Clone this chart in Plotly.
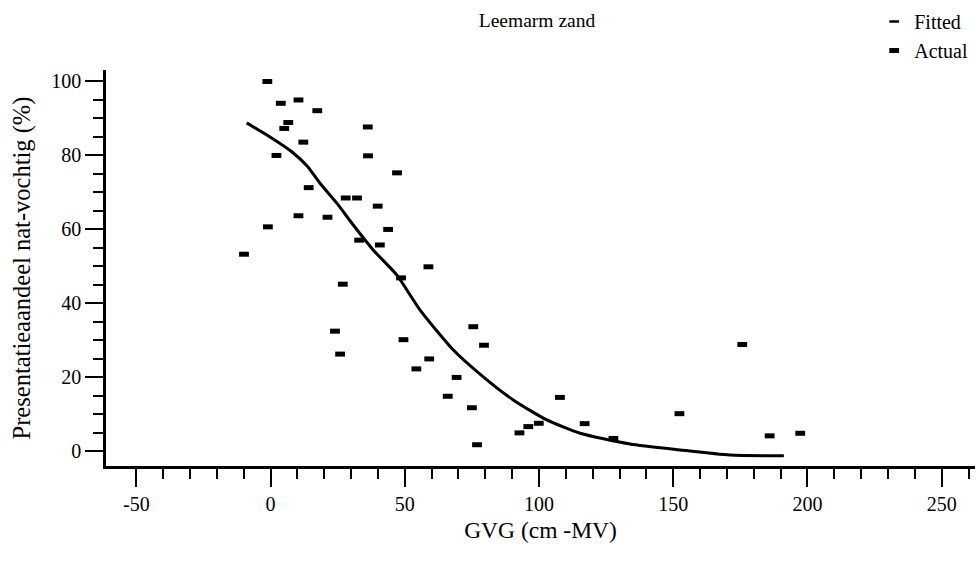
import plotly.graph_objects as go

# Actual observations (GVG in cm -MV, share in %)
actual_x = [-9.9, -1.2, -1.0, 2.2, 3.8, 5.1, 6.6, 10.4, 10.4, 12.2, 14.2, 17.4, 21.2,
            28.0, 32.2, 33.0, 36.2, 36.3, 39.9, 40.7, 43.8, 47.1, 48.6, 24.0, 25.9,
            26.9, 49.5, 58.8, 59.1, 54.3, 69.3, 66.0, 75.5, 79.5, 75.0, 76.9, 92.7,
            96.0, 99.9, 107.8, 117.0, 127.7, 152.3, 175.7, 185.9, 197.3]
actual_y = [53.2, 99.9, 60.6, 79.9, 94.0, 87.2, 88.8, 94.9, 63.6, 83.5, 71.2, 92.0, 63.2,
            68.4, 68.4, 57.0, 87.6, 79.8, 66.2, 55.7, 59.9, 75.2, 46.8, 32.4, 26.2,
            45.1, 30.1, 49.8, 24.9, 22.2, 19.9, 14.8, 33.6, 28.6, 11.7, 1.7, 4.9,
            6.6, 7.5, 14.5, 7.4, 3.4, 10.1, 28.8, 4.1, 4.8]

# Fitted curve
fit_x = [-8.9, -0.2, 7.9, 13.7, 18.4, 24.7, 30.8, 38.3, 47.0, 55.7, 68.1, 78.0,
         90.4, 102.9, 115.3, 133.9, 152.5, 171.1, 191.2]
fit_y = [88.7, 84.9, 80.9, 77.0, 72.4, 67.0, 61.1, 54.3, 47.6, 38.1, 27.3, 20.8,
         13.8, 8.4, 4.8, 1.9, 0.3, -1.1, -1.3]

x_ticks = [-50, 0, 50, 100, 150, 200, 250]
x_minor_ticks = [v for v in range(-40, 261, 10) if v % 50 != 0]
y_ticks = [0, 20, 40, 60, 80, 100]

FONT = "Liberation Serif"

fig = go.Figure()
fig.add_trace(go.Scatter(x=fit_x, y=fit_y, mode="lines", name="Fitted",
                         line=dict(color="black", width=3, shape="spline", smoothing=0.6),
                         showlegend=False))
fig.add_trace(go.Scatter(x=[None], y=[None], mode="markers", name="Fitted",
                         marker=dict(symbol="line-ew", size=7,
                                     line=dict(color="black", width=2.5))))
fig.add_trace(go.Scatter(x=actual_x, y=actual_y, mode="markers", name="Actual",
                         marker=dict(symbol="line-ew", size=7, color="black",
                                     line=dict(color="black", width=5))))

fig.update_layout(
    width=978, height=562,
    margin=dict(l=106, r=3, t=70, b=96, autoexpand=False),
    paper_bgcolor="white", plot_bgcolor="white",
    font=dict(family=FONT, size=20, color="black"),
    title=dict(text="Leemarm zand", x=537 / 978, xref="container",
               xanchor="center", y=1 - 20 / 562, yanchor="middle", font=dict(size=19.5)),
    legend=dict(x=0.884, y=1.172, xanchor="left", yanchor="top",
                font=dict(size=20), bgcolor="rgba(0,0,0,0)",
                itemwidth=30, tracegroupgap=0),
    xaxis=dict(range=[-61.3, 262.4], tickvals=x_ticks, ticktext=[str(v) for v in x_ticks],
               showgrid=False, zeroline=False, showline=True, linecolor="black",
               linewidth=2.5, ticks="outside", ticklen=18, tickwidth=2,
               tickcolor="black", tickfont=dict(size=20),
               minor=dict(tickvals=x_minor_ticks, ticks="outside", ticklen=10,
                          tickwidth=2, tickcolor="black", showgrid=False),
               title=dict(text="GVG (cm -MV)", standoff=8, font=dict(size=23.5))),
    yaxis=dict(range=[-4.05, 103], tickvals=y_ticks, ticktext=[str(v) for v in y_ticks],
               showgrid=False, zeroline=False, showline=True, linecolor="black",
               linewidth=2.5, ticks="outside", ticklen=18, tickwidth=2,
               tickcolor="black", tickfont=dict(size=20),
               minor=dict(dtick=5, tick0=0, ticks="outside", ticklen=10,
                          tickwidth=2, tickcolor="black", showgrid=False),
               title=dict(text="Presentatieaandeel nat-vochtig (%)", standoff=14,
                          font=dict(size=24.5))),
)

fig.write_html("out.html")
